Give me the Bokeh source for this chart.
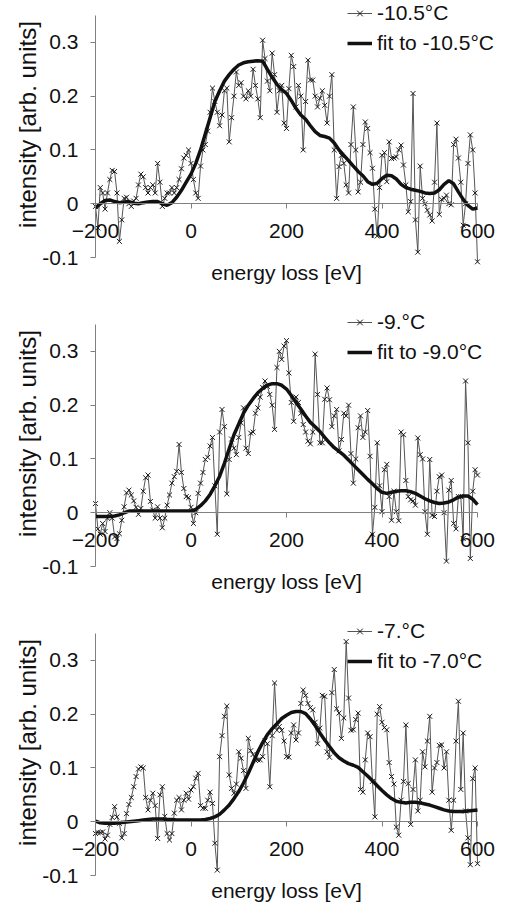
import numpy as np
from bokeh.plotting import figure
from bokeh.layouts import column
from bokeh.models import (LinearAxis, FixedTicker, CustomJSTickFormatter, Legend,
                          LegendItem, Range1d, Label)
from bokeh.embed import file_html
from bokeh.resources import INLINE

# energy-loss channels (eV) of the measured spectra and of the fitted curves
ENERGY = np.arange(-200, 601, 5)
FIT_ENERGY = np.arange(-200, 601, 10)

X_TICKS = [-200, 0, 200, 400, 600]
Y_TICKS = [-0.1, 0.0, 0.1, 0.2, 0.3]

# ---- -10.5 C ----
DATA_105 = [
    -0.005, -0.045, 0.03, 0.02, -0.01, 0.02, 0.045, 0.062, 0.06, 0.02,
    -0.07, -0.03, 0.01, 0.012, 0.0, -0.005, 0.005, 0.01, 0.035, 0.055,
    0.05, 0.03, 0.02, 0.03, 0.035, 0.02, 0.075, 0.04, -0.005, 0.01,
    0.02, 0.02, 0.03, 0.02, 0.03, 0.045, 0.065, 0.085, 0.09, 0.1,
    0.075, 0.045, 0.02, 0.01, 0.07, 0.1, 0.11, 0.135, 0.17, 0.215,
    0.19, 0.17, 0.145, 0.165, 0.21, 0.215, 0.115, 0.16, 0.2, 0.245,
    0.22, 0.225, 0.2, 0.195, 0.21, 0.2, 0.25, 0.22, 0.195, 0.16,
    0.304, 0.27, 0.228, 0.21, 0.28, 0.24, 0.17, 0.21, 0.22, 0.15,
    0.14, 0.214, 0.276, 0.255, 0.18, 0.22, 0.2, 0.1, 0.19, 0.267,
    0.23, 0.23, 0.2, 0.18, 0.196, 0.21, 0.183, 0.15, 0.2, 0.24,
    0.1, 0.01, 0.069, 0.09, 0.075, 0.035, 0.02, 0.11, 0.18, 0.1,
    0.022, 0.04, 0.11, 0.152, 0.14, 0.095, 0.066, -0.01, -0.06, 0.03,
    0.09, 0.095, 0.041, 0.115, 0.084, 0.085, 0.087, 0.1, 0.109, 0.072,
    0.035, -0.015, 0.004, 0.205, -0.03, -0.09, 0.07, 0.01, 0.0, -0.012,
    -0.021, -0.032, 0.04, 0.15, -0.02, 0.008, 0.01, 0.016, 0.0, -0.002,
    0.11, 0.12, 0.085, 0.04, -0.04, 0.0, 0.075, 0.128, 0.1, 0.02,
    -0.108,
]
FIT_105 = [
    -0.008, 0.0, 0.006, 0.007, 0.004, 0.002, 0.003, 0.004, 0.001, 0.0,
    0.002, 0.003, 0.004, 0.004, 0.0, -0.003, 0.002, 0.012, 0.025, 0.04,
    0.055, 0.075, 0.1, 0.13, 0.16, 0.19, 0.21, 0.228, 0.24, 0.25,
    0.258, 0.262, 0.264, 0.265, 0.266, 0.265, 0.25, 0.235, 0.222, 0.212,
    0.205, 0.192, 0.177, 0.165, 0.157, 0.145, 0.134, 0.127, 0.125, 0.122,
    0.113, 0.1, 0.09, 0.08, 0.07, 0.06, 0.052, 0.041, 0.036, 0.038,
    0.047, 0.053, 0.052, 0.046, 0.036, 0.03, 0.027, 0.025, 0.023, 0.02,
    0.019, 0.02, 0.026, 0.036, 0.043, 0.037, 0.022, 0.008, -0.003, -0.01,
    -0.008,
]

# ---- -9 C ----
DATA_90 = [
    0.017, -0.03, -0.04, -0.02, -0.035, -0.01, 0.0, -0.01, -0.045, -0.048,
    -0.039, -0.014, 0.011, 0.037, 0.042, 0.033, 0.022, 0.01, -0.003, 0.008,
    0.04, 0.065, 0.07, 0.021, 0.005, -0.01, 0.011, -0.01, -0.028, -0.01,
    0.014, 0.033, 0.055, 0.067, 0.077, 0.127, 0.075, 0.045, 0.03, 0.028,
    0.01, -0.02, 0.0, 0.036, 0.055, 0.075, 0.099, 0.103, 0.124, 0.14,
    0.05, -0.04, 0.15, 0.192, 0.16, 0.035, 0.099, 0.137, 0.12, 0.108,
    0.14, 0.167, 0.195, 0.12, 0.11, 0.148, 0.15, 0.185, 0.195, 0.215,
    0.233, 0.245, 0.235, 0.22, 0.2, 0.155, 0.27, 0.3, 0.285, 0.31,
    0.32, 0.26, 0.205, 0.17, 0.215, 0.205, 0.185, 0.164, 0.15, 0.133,
    0.128, 0.15, 0.295, 0.22, 0.13, 0.13, 0.211, 0.232, 0.21, 0.16,
    0.18, 0.192, 0.115, 0.136, 0.185, 0.18, 0.2, 0.11, 0.055, 0.1,
    0.158, 0.18, 0.14, 0.15, 0.19, 0.105, -0.04, 0.01, 0.13, 0.05,
    0.002, 0.08, 0.09, 0.03, -0.014, 0.04, 0.002, -0.015, 0.15, 0.145,
    0.06, 0.03, 0.024, 0.022, 0.014, 0.139, 0.108, 0.1, 0.002, -0.04,
    0.099, -0.005, -0.007, 0.04, 0.067, 0.07, 0.0, -0.09, 0.042, 0.06,
    -0.02, -0.03, 0.03, 0.03, -0.048, 0.245, 0.13, -0.085, 0.04, 0.08,
    0.07,
]
FIT_90 = [
    -0.007, -0.007, -0.007, -0.007, -0.006, -0.004, 0.0, 0.003, 0.003, 0.003,
    0.003, 0.003, 0.003, 0.003, 0.003, 0.003, 0.003, 0.003, 0.003, 0.003,
    0.003, 0.006, 0.013, 0.022, 0.034, 0.05, 0.068, 0.092, 0.119, 0.145,
    0.165, 0.185, 0.2, 0.212, 0.223, 0.231, 0.237, 0.24, 0.24, 0.237,
    0.23, 0.218, 0.205, 0.193, 0.18, 0.168, 0.16, 0.151, 0.14, 0.13,
    0.121, 0.114, 0.107, 0.098, 0.089, 0.08, 0.071, 0.062, 0.054, 0.045,
    0.038, 0.036, 0.038, 0.04, 0.041, 0.041, 0.039, 0.036, 0.031, 0.026,
    0.022, 0.019, 0.017, 0.018, 0.02, 0.024, 0.029, 0.031, 0.031, 0.025,
    0.015,
]

# ---- -7 C ----
DATA_70 = [
    -0.022, -0.02, -0.02, -0.019, -0.032, -0.025, -0.005, 0.008, 0.028, 0.009,
    -0.003, -0.03, -0.022, 0.015, 0.032, 0.045, 0.065, 0.084, 0.098, 0.102,
    0.1, 0.045, 0.022, 0.04, 0.053, 0.03, -0.031, 0.05, 0.065, 0.01,
    -0.022, -0.034, -0.022, 0.016, 0.04, 0.045, 0.022, 0.04, 0.053, 0.042,
    0.059, 0.065, 0.081, 0.09, 0.03, 0.025, 0.025, 0.04, 0.055, 0.034,
    -0.04, -0.09, 0.121, 0.16, 0.196, 0.215, 0.087, 0.062, 0.053, 0.07,
    0.13, 0.118, 0.095, 0.062, 0.155, 0.132, 0.125, 0.114, 0.115, 0.115,
    0.121, 0.15, 0.145, 0.065, 0.16, 0.258, 0.17, 0.177, 0.17, 0.15,
    0.121, 0.12, 0.165, 0.18, 0.152, 0.165, 0.22, 0.245, 0.235, 0.22,
    0.212, 0.208, 0.185, 0.145, 0.174, 0.235, 0.233, 0.13, 0.12, 0.24,
    0.283, 0.21, 0.202, 0.155, 0.193, 0.335, 0.23, 0.17, 0.171, 0.19,
    0.202, 0.06, 0.055, 0.115, 0.165, 0.158, 0.075, 0.009, 0.2, 0.214,
    0.185, 0.175, 0.171, 0.11, 0.084, 0.07, -0.01, -0.025, 0.04, 0.075,
    0.18, 0.071, -0.005, 0.06, 0.115, 0.02, 0.04, 0.13, 0.102, 0.15,
    0.196, 0.055, 0.1, 0.11, 0.142, 0.143, 0.1, 0.13, 0.04, -0.016,
    0.04, 0.15, 0.224, 0.06, 0.165, 0.02, -0.03, -0.08, 0.08, 0.1,
    -0.078,
]
FIT_70 = [
    0.001, -0.002, -0.003, -0.003, -0.003, -0.002, -0.001, 0.0, 0.001, 0.002,
    0.003, 0.004, 0.005, 0.005, 0.005, 0.004, 0.004, 0.003, 0.003, 0.003,
    0.003, 0.003, 0.003, 0.004, 0.006, 0.009, 0.014, 0.022, 0.031, 0.043,
    0.056, 0.072, 0.09, 0.11, 0.13, 0.147, 0.162, 0.173, 0.182, 0.192,
    0.198, 0.203, 0.205, 0.205, 0.201, 0.191, 0.179, 0.165, 0.152, 0.14,
    0.128, 0.119, 0.113, 0.108, 0.105, 0.101, 0.093, 0.085, 0.076, 0.067,
    0.058, 0.05, 0.043, 0.038, 0.036, 0.035, 0.036, 0.036, 0.035, 0.033,
    0.031, 0.028, 0.025, 0.022, 0.02, 0.019, 0.019, 0.019, 0.02, 0.021,
    0.022,
]

PANELS = [
    (DATA_105, FIT_105, "-10.5°C", "fit to -10.5°C"),
    (DATA_90, FIT_90, "-9.°C", "fit to -9.0°C"),
    (DATA_70, FIT_70, "-7.°C", "fit to -7.0°C"),
]

FONT = "Liberation Sans"
AXIS_GRAY = "#808080"
TEXT = "#111111"

# geometry of the plotting area inside each panel (pixels)
W = 507
AX_LEFT, AX_RIGHT = 95, 477        # x = -200 ... 600
AX_TOP, AX_BOTTOM = 15, 257        # y = 0.35 ... -0.1
X0, X1 = -200.0, 600.0
Y0, Y1 = -0.1, 0.35


def make_panel(data, fit, label, fit_label, height):
    ex = (X1 - X0) / (AX_RIGHT - AX_LEFT)      # eV per pixel
    ey = (Y1 - Y0) / (AX_BOTTOM - AX_TOP)      # units per pixel
    xr = Range1d(X0 - AX_LEFT * ex, X1 + (W - AX_RIGHT) * ex)
    yr = Range1d(Y0 - (height - AX_BOTTOM) * ey, Y1 + AX_TOP * ey)

    p = figure(width=W, height=height, x_range=xr, y_range=yr,
               output_backend="svg", toolbar_location=None,
               x_axis_location=None, y_axis_location=None,
               min_border=0)
    p.grid.visible = False
    p.outline_line_color = None
    p.background_fill_color = "white"
    p.border_fill_color = "white"

    # y axis standing at x = -200
    ya = LinearAxis(fixed_location=X0, bounds=(Y0, Y1),
                    ticker=FixedTicker(ticks=Y_TICKS))
    ya.formatter = CustomJSTickFormatter(
        code="return tick.toFixed(1).replace(/\\.0$/, '');")
    ya.axis_line_color = AXIS_GRAY
    ya.major_tick_line_color = AXIS_GRAY
    ya.major_tick_out = 5
    ya.major_tick_in = 0
    ya.minor_tick_line_color = None
    ya.major_label_standoff = 12
    ya.major_label_text_font = FONT
    ya.major_label_text_font_size = "21px"
    ya.major_label_text_color = TEXT
    p.add_layout(ya, "left")

    # x axis crossing at y = 0
    xa = LinearAxis(fixed_location=0, bounds=(X0, X1),
                    ticker=FixedTicker(ticks=X_TICKS))
    xa.axis_line_color = AXIS_GRAY
    xa.major_tick_line_color = AXIS_GRAY
    xa.major_tick_out = 5
    xa.major_tick_in = 0
    xa.minor_tick_line_color = None
    xa.major_label_standoff = 15
    xa.major_label_text_font = FONT
    xa.major_label_text_font_size = "21px"
    xa.major_label_text_color = TEXT
    p.add_layout(xa, "below")

    # axis titles
    p.add_layout(Label(x=X0 - (AX_LEFT - 27) * ex, y=Y1 - (124 - AX_TOP) * ey,
                       text="intensity [arb. units]", angle=90,
                       angle_units="deg", text_align="center",
                       text_baseline="middle", text_font=FONT,
                       text_font_size="24px", text_color=TEXT))
    p.add_layout(Label(x=X0 + (286 - AX_LEFT) * ex, y=Y1 - (272 - AX_TOP) * ey,
                       text="energy loss [eV]", text_align="center",
                       text_baseline="middle", text_font=FONT,
                       text_font_size="21px", text_color=TEXT))

    line_r = p.line(ENERGY, data, line_color="#555555", line_width=1)
    scat_r = p.scatter(ENERGY, data, marker="x", size=7,
                       line_color="#1a1a1a", line_width=1)
    fit_r = p.line(FIT_ENERGY, fit, line_color="#111111", line_width=3.5)

    legend = Legend(items=[LegendItem(label=label, renderers=[line_r, scat_r]),
                           LegendItem(label=fit_label, renderers=[fit_r])],
                    location=(347, height - 55), orientation="vertical",
                    background_fill_alpha=0, border_line_color=None,
                    padding=0, margin=0, spacing=6,
                    glyph_width=25, glyph_height=20, label_standoff=5,
                    label_text_font=FONT, label_text_font_size="21px",
                    label_text_color=TEXT)
    p.add_layout(legend)
    return p


figs = [make_panel(d, f, lab, flab, 309 if i < 2 else 293)
        for i, (d, f, lab, flab) in enumerate(PANELS)]

layout = column(*figs, spacing=0)
open("out.html", "w").write(file_html(layout, INLINE))
